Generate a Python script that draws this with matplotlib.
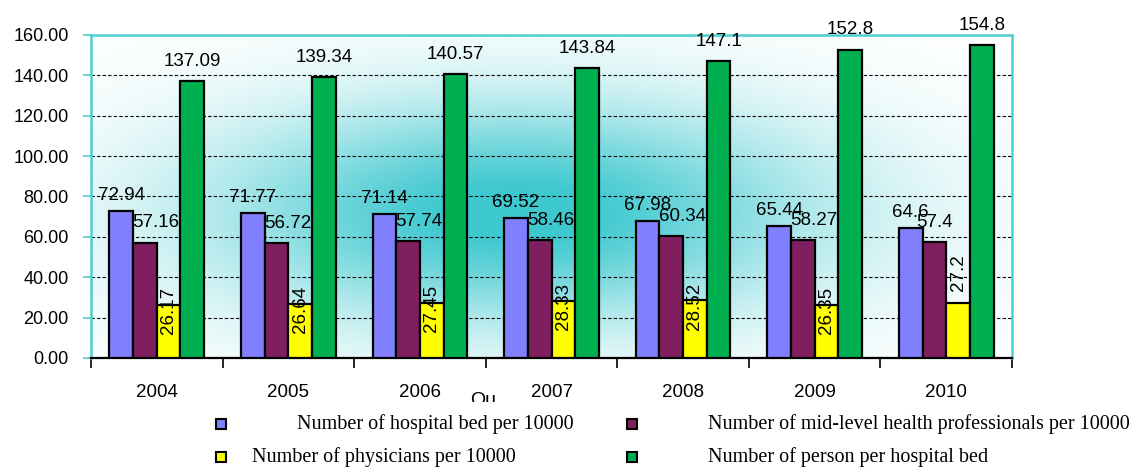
import numpy as np
import matplotlib.pyplot as plt
from matplotlib.patches import Rectangle
from matplotlib.transforms import Bbox

years = ['2004', '2005', '2006', '2007', '2008', '2009', '2010']
hospital_beds = [72.94, 71.77, 71.14, 69.52, 67.98, 65.44, 64.6]
mid_level = [57.16, 56.72, 57.74, 58.46, 60.34, 58.27, 57.4]
physicians = [26.17, 26.64, 27.45, 28.33, 28.52, 26.35, 27.2]
persons_per_bed = [137.09, 139.34, 140.57, 143.84, 147.1, 152.8, 154.8]

legend_labels = ['Number of hospital bed per 10000',
                 'Number of mid-level health professionals per 10000',
                 'Number of physicians per 10000',
                 'Number of person per hospital bed']

colors = ['#8080FF', '#7F1F5F', '#FFFF00', '#00B050']
cyan = '#4CCFD0'

plt.rcParams['font.family'] = ['Liberation Sans', 'DejaVu Sans']

W, H = 1130, 467
fig = plt.figure(figsize=(W / 100, H / 100), dpi=100)
ax = fig.add_axes([91 / W, 1 - 358 / H, 921 / W, 323 / H])

# soft teal glow behind the bars
nx, ny = 400, 200
gx, gy = np.meshgrid(np.linspace(0, 1, nx), np.linspace(0, 1, ny))
glow = np.exp(-((gx - 0.46) / 0.33) ** 2 - ((gy - 0.45) / 0.34) ** 2)
glow = np.clip(glow * 1.05, 0, 1)
c0 = np.array([0x3E, 0xC8, 0xCF]) / 255.0
img = np.ones((ny, nx, 3)) * (1 - glow[..., None]) + c0 * glow[..., None]
ax.imshow(img, extent=[0, 1, 0, 1], transform=ax.transAxes, origin='lower',
          aspect='auto', zorder=0, interpolation='bicubic')

x = np.arange(len(years))
w = 0.18
series = [hospital_beds, mid_level, physicians, persons_per_bed]
offsets = [-1.5 * w, -0.5 * w, 0.5 * w, 1.5 * w]
for vals, off, col in zip(series, offsets, colors):
    ax.bar(x + off, vals, w, color=col, edgecolor='black', linewidth=1.6, zorder=3)

ax.set_xlim(-0.5, len(years) - 0.5)
ax.set_ylim(0, 160)
ax.set_yticks(np.arange(0, 161, 20))
ax.set_yticklabels(['%.2f' % v for v in np.arange(0, 161, 20)], fontsize=13)
ax.yaxis.grid(True, color='black', linestyle=(0, (3, 2)), linewidth=0.8, zorder=1)
ax.set_axisbelow(True)

# ticks between groups, year labels under the group centres
ax.set_xticks(np.arange(len(years) + 1) - 0.5)
ax.set_xticklabels([])
ax.set_xticks(x, minor=True)
ax.set_xticklabels(years, minor=True, fontsize=13.5)
ax.tick_params(axis='x', which='major', length=7, width=1.2, direction='out')
ax.tick_params(axis='x', which='minor', length=0, pad=19)
ax.tick_params(axis='y', length=6, width=1.2, color=cyan, pad=10)

for s in ['left', 'top', 'right']:
    ax.spines[s].set_color(cyan)
    ax.spines[s].set_linewidth(1.8)
ax.spines['bottom'].set_color('black')
ax.spines['bottom'].set_linewidth(1.6)

lbl = dict(fontsize=13.5, ha='center', zorder=5, textcoords='offset points')
for i in range(len(years)):
    ax.annotate('%g' % hospital_beds[i], (x[i] + offsets[0], hospital_beds[i]),
                xytext=(0, 5), va='bottom', **lbl)
    dx = 0 if i == len(years) - 1 else 8
    ax.annotate('%g' % mid_level[i], (x[i] + offsets[1], mid_level[i]),
                xytext=(dx, 8), va='bottom', **lbl)
    ax.annotate('%g' % persons_per_bed[i], (x[i] + offsets[3], persons_per_bed[i]),
                xytext=(0, 8), va='bottom', **lbl)
    if i == len(years) - 1:
        ax.annotate('%g' % physicians[i], (x[i] + offsets[2], physicians[i]),
                    xytext=(0, 9), va='bottom', rotation=90, **lbl)
    else:
        ax.annotate('%g' % physicians[i], (x[i] + offsets[2], physicians[i]),
                    xytext=(0, -4), va='center', rotation=90, **lbl)

# half-hidden axis title under the year labels
t = fig.text(470 / W, 1 - 392 / H, 'Ou', fontsize=14, va='top')
t.set_clip_box(Bbox.from_extents(0, 1 - 402 / H, 1, 1).transformed(fig.transFigure))
t.set_clip_on(True)

# legend drawn by hand
legend_pos = [(221, 424, 297), (632, 424, 708), (221, 457, 252), (632, 457, 708)]
for (mx, my, tx), lab, col in zip(legend_pos, legend_labels, colors):
    fig.patches.append(Rectangle(((mx - 5) / W, 1 - (my + 5) / H), 10 / W, 10 / H,
                                 transform=fig.transFigure, facecolor=col,
                                 edgecolor='black', linewidth=1.5))
    fig.text(tx / W, 1 - my / H, lab, family='Liberation Serif', fontsize=14.5,
             va='center', ha='left')

fig.savefig('out.png', dpi=100)
